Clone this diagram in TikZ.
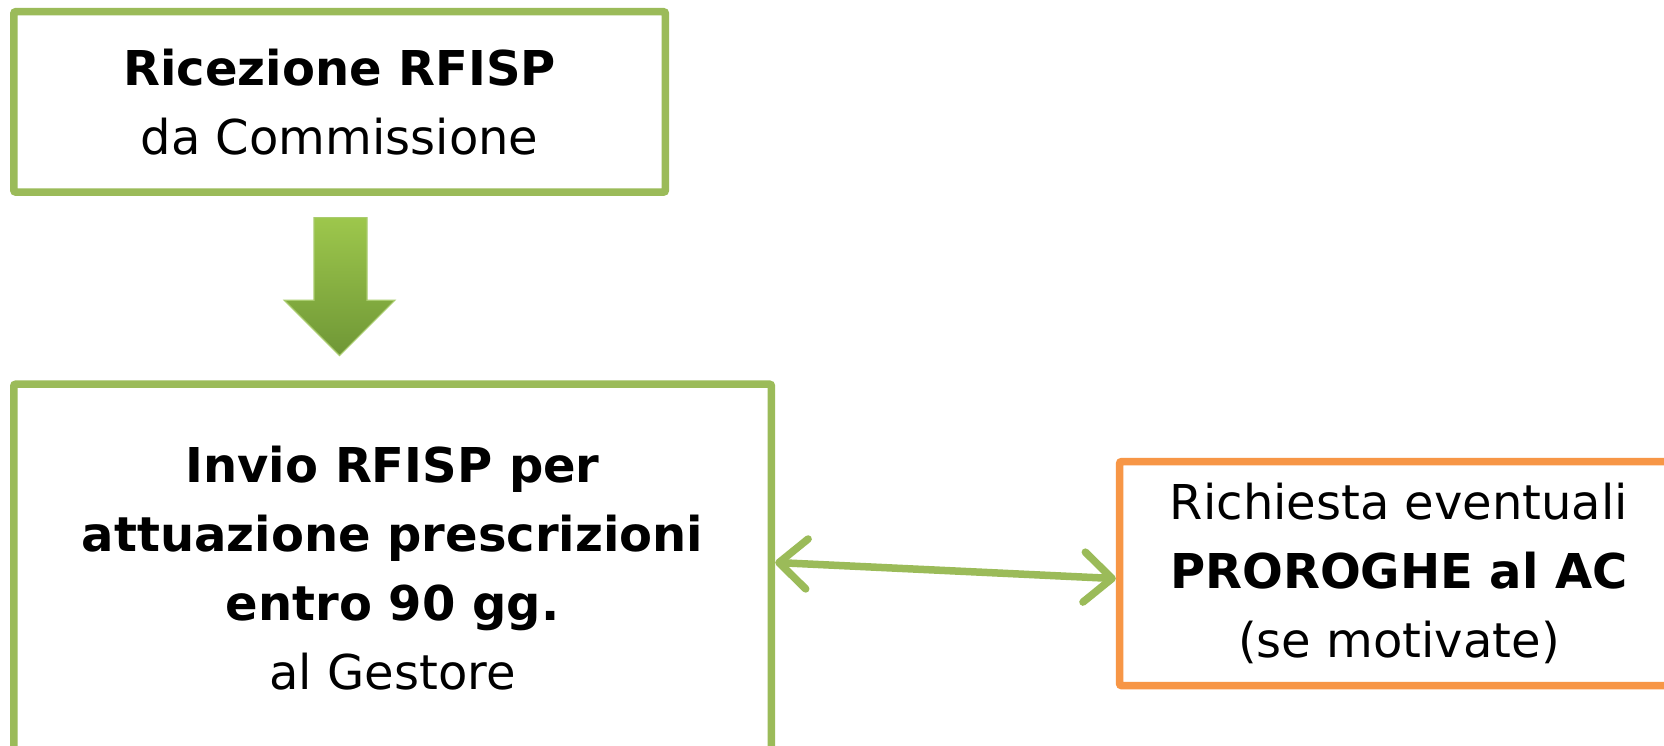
\documentclass[tikz,border=0pt]{standalone}
\usepackage{fontspec}
\setmainfont{DejaVu Sans}
\usetikzlibrary{arrows.meta,calc}
\definecolor{boxgreen}{HTML}{9BBB59}
\definecolor{boxorange}{HTML}{F79646}
\definecolor{arrtop}{HTML}{9DC74C}
\definecolor{arrbot}{HTML}{6F9736}
\definecolor{arredge}{HTML}{A9CC6E}
\tikzset{
  box/.style={draw, line width=7.5pt, rounded corners=2pt, align=center, fill=white,
    font=\fontsize{48}{69}\selectfont, inner sep=0pt},
  greenbox/.style={box, draw=boxgreen},
  orangebox/.style={box, draw=boxorange},
  link/.style={draw=boxgreen, line width=7.5pt, line cap=round,
    {Straight Barb[length=28pt,width=50pt,line cap=round,line join=round]}-{Straight Barb[length=28pt,width=50pt,line cap=round,line join=round]}},
  blockarrow/.style={draw=arredge, line width=1.2pt, top color=arrtop, bottom color=arrbot}
}
\begin{document}
\begin{tikzpicture}[x=1pt,y=-1pt]
\useasboundingbox (0,0) rectangle (1664,745);
\clip (0,0) rectangle (1664,745);
\fill[white] (0,0) rectangle (1664,745);
\node[greenbox, minimum width=651.6pt, minimum height=180.4pt] (top) at (339.6,101.9)
  {\textbf{Ricezione RFISP}\\da Commissione};
\node[greenbox, minimum width=757.7pt, minimum height=367.6pt] (bot) at (392.6,568)
  {\textbf{Invio RFISP per}\\\textbf{attuazione prescrizioni}\\\textbf{entro 90 gg.}\\al Gestore};
\node[orangebox, minimum width=558.8pt, minimum height=224pt] (rb) at (1399,573.6)
  {Richiesta eventuali\\\textbf{PROROGHE al AC}\\(se motivate)};
\path[blockarrow] (314,217.6) -- (367,217.6) -- (367,300.3) -- (394.8,300.3) -- (339.6,355.5)
  -- (284.4,300.3) -- (314,300.3) -- cycle;
\draw[link] ([yshift=-182pt]bot.north east) -- ([yshift=-5pt]rb.west);
\end{tikzpicture}
\end{document}
